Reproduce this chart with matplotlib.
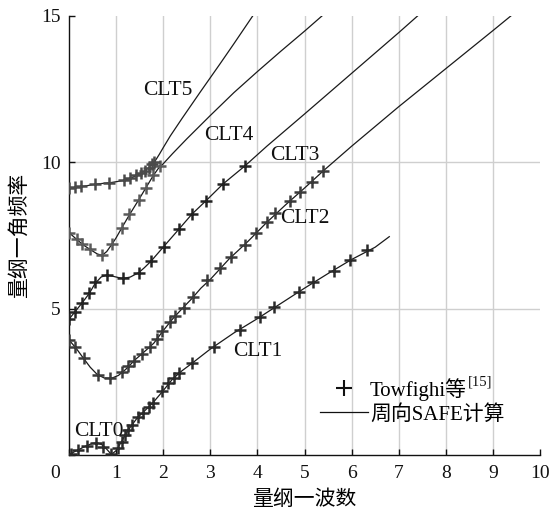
import matplotlib
matplotlib.use("Agg")
import matplotlib.pyplot as plt
from matplotlib.lines import Line2D

plt.rcParams['font.family'] = ['Liberation Serif', 'Noto Sans CJK SC', 'DejaVu Sans']
plt.rcParams['mathtext.fontset'] = 'stix'
SERIF = ['Liberation Serif', 'Noto Sans CJK SC', 'DejaVu Sans']

# ---- data: Towfighi reference points (markers) ----
m01_x = [0.04, 0.20, 0.38, 0.57, 0.72, 0.89, 1.03, 1.12, 1.19, 1.26, 1.33, 1.47, 1.58, 1.69, 1.79,
         1.97, 2.10, 2.22, 2.33, 2.61, 3.07, 3.62, 4.06, 4.36, 4.88, 5.19, 5.62, 5.96, 6.33]
m01_y = [0.02, 0.17, 0.31, 0.42, 0.28, 0.03, 0.23, 0.45, 0.68, 0.85, 1.02, 1.31, 1.45, 1.65, 1.79,
         2.20, 2.45, 2.63, 2.79, 3.13, 3.70, 4.27, 4.73, 5.07, 5.58, 5.90, 6.30, 6.66, 7.00]
m2_x = [0.0, 0.13, 0.32, 0.62, 0.87, 1.12, 1.26, 1.38, 1.55, 1.71, 1.87, 1.97, 2.15, 2.26, 2.45,
        2.64, 2.93, 3.20, 3.43, 3.73, 3.98, 4.21, 4.38, 4.70, 4.91, 5.16, 5.40]
m2_y = [3.93, 3.68, 3.30, 2.73, 2.62, 2.85, 3.04, 3.22, 3.45, 3.68, 3.95, 4.25, 4.55, 4.75, 5.01,
        5.41, 5.98, 6.38, 6.75, 7.17, 7.57, 7.97, 8.28, 8.69, 9.00, 9.34, 9.71]
m3_x = [0.0, 0.13, 0.27, 0.43, 0.55, 0.80, 1.14, 1.48, 1.74, 2.01, 2.33, 2.61, 2.91, 3.27, 3.73]
m3_y = [4.64, 4.90, 5.18, 5.52, 5.92, 6.15, 6.04, 6.23, 6.62, 7.12, 7.71, 8.23, 8.69, 9.26, 9.87]
m4_x = [0.0, 0.16, 0.27, 0.45, 0.70, 0.91, 1.12, 1.28, 1.48, 1.64, 1.79, 1.94]
m4_y = [7.60, 7.37, 7.21, 7.03, 6.82, 7.22, 7.76, 8.22, 8.72, 9.13, 9.58, 9.88]
m5_x = [0.01, 0.13, 0.25, 0.55, 0.84, 1.16, 1.30, 1.43, 1.52, 1.62, 1.69, 1.76, 1.80]
m5_y = [9.11, 9.15, 9.18, 9.26, 9.30, 9.38, 9.45, 9.55, 9.63, 9.72, 9.82, 9.93, 10.00]

# ---- data: circumferential SAFE results (lines) ----
l01_x = [0.0, 0.1, 0.2, 0.35, 0.5, 0.6, 0.7, 0.8, 0.9, 1.0, 1.1, 1.2, 1.3, 1.45, 1.6, 1.8, 2.0,
         2.2, 2.4, 2.6, 3.0, 3.5, 4.0, 4.5, 5.0, 5.5, 6.0, 6.5, 6.8]
l01_y = [0.0, 0.1, 0.18, 0.3, 0.4, 0.42, 0.35, 0.2, 0.02, 0.15, 0.42, 0.7, 0.95, 1.27, 1.5, 1.82, 2.2,
         2.6, 2.88, 3.12, 3.62, 4.17, 4.66, 5.18, 5.70, 6.20, 6.68, 7.10, 7.46]
l2_x = [0.0, 0.15, 0.3, 0.45, 0.6, 0.75, 0.9, 1.05, 1.2, 1.4, 1.6, 1.8, 2.0, 2.2, 2.4, 2.6, 2.8,
        3.0, 3.4, 3.8, 4.2, 4.6, 5.0, 5.4, 6.0, 7.0, 8.0, 9.0, 9.38]
l2_y = [3.93, 3.65, 3.32, 3.0, 2.75, 2.63, 2.62, 2.72, 2.92, 3.25, 3.53, 3.82, 4.25, 4.65, 5.0, 5.33, 5.7,
        6.0, 6.7, 7.3, 7.95, 8.55, 9.12, 9.71, 10.55, 11.9, 13.2, 14.5, 15.0]
l3_x = [0.0, 0.13, 0.27, 0.43, 0.55, 0.68, 0.8, 0.95, 1.14, 1.3, 1.48, 1.6, 1.74, 2.01, 2.33, 2.61,
        2.91, 3.27, 3.73, 4.2, 5.0, 6.0, 7.0, 7.4]
l3_y = [4.64, 4.9, 5.18, 5.52, 5.85, 6.08, 6.15, 6.1, 6.03, 6.08, 6.23, 6.4, 6.62, 7.12, 7.71, 8.23,
        8.69, 9.26, 9.87, 10.55, 11.65, 13.04, 14.43, 15.0]
l4_x = [0.0, 0.16, 0.3, 0.45, 0.6, 0.7, 0.8, 0.91, 1.0, 1.12, 1.28, 1.48, 1.64, 1.79, 1.9, 2.0, 2.2,
        2.5, 3.0, 3.5, 4.0, 4.5, 5.0, 5.37]
l4_y = [7.6, 7.37, 7.18, 7.02, 6.87, 6.82, 6.95, 7.2, 7.42, 7.76, 8.2, 8.72, 9.15, 9.55, 9.8, 9.95, 10.3,
        10.8, 11.6, 12.38, 13.1, 13.8, 14.48, 15.0]
l5_x = [0.0, 0.3, 0.6, 0.9, 1.16, 1.3, 1.43, 1.52, 1.62, 1.69, 1.76, 1.83, 1.92, 2.0, 2.15, 2.4, 2.79,
        3.2, 3.5, 3.9]
l5_y = [9.11, 9.18, 9.26, 9.31, 9.38, 9.45, 9.55, 9.63, 9.72, 9.82, 9.93, 10.05, 10.28, 10.5, 10.9,
        11.5, 12.41, 13.35, 14.05, 15.0]

mode_labels = ['CLT0', 'CLT1', 'CLT2', 'CLT3', 'CLT4', 'CLT5']
label_x = [0.64, 4.0, 5.0, 4.8, 3.4, 2.1]
label_y = [0.80, 3.52, 8.08, 10.25, 10.93, 12.44]

legend_labels = ['Towfighi等', '周向SAFE计算']
legend_ref = '[15]'

xticks = [0, 1, 2, 3, 4, 5, 6, 7, 8, 9, 10]
yticks = [0, 5, 10, 15]

fig = plt.figure(figsize=(5.53, 5.17), dpi=100)
ax = fig.add_axes([0.1248, 0.1199, 0.8517, 0.8492])
ax.set_xlim(0, 10)
ax.set_ylim(0, 15)

for t in xticks[1:-1]:
    ax.axvline(t, color='#cfcfcf', lw=1.0, zorder=0)
for t in yticks[1:-1]:
    ax.axhline(t, color='#cfcfcf', lw=1.0, zorder=0)

line_kw = dict(color='#1a1a1a', lw=0.9, zorder=2)
for lx, ly in [(l01_x, l01_y), (l2_x, l2_y), (l3_x, l3_y), (l4_x, l4_y), (l5_x, l5_y)]:
    ax.plot(lx, ly, **line_kw)

mk_kw = dict(ls='none', marker='+', ms=8.5, mew=1.8, zorder=3)
ax.plot(m01_x, m01_y, color='#2a2a2a', **mk_kw)
ax.plot(m2_x, m2_y, color='#3a3a3a', **mk_kw)
ax.plot(m3_x, m3_y, color='#222222', **mk_kw)
ax.plot(m4_x, m4_y, color='#5a5a5a', **mk_kw)
ax.plot(m5_x, m5_y, color='#4a4a4a', **mk_kw)

for name, tx, ty in zip(mode_labels, label_x, label_y):
    ax.text(tx, ty, name, fontsize=15.5, ha='center', va='center', color='#111111', zorder=4,
            family=SERIF)

for s in ['top', 'right']:
    ax.spines[s].set_visible(False)
for s in ['left', 'bottom']:
    ax.spines[s].set_linewidth(1.0)
    ax.spines[s].set_color('#111111')

ax.set_xticks(xticks)
ax.set_yticks(yticks)
ax.set_xticklabels([''] + [str(t) for t in xticks[1:]], family=SERIF)
ax.set_yticklabels([''] + [str(t) for t in yticks[1:]], family=SERIF)
ax.tick_params(direction='in', length=4, width=1.0, labelsize=14, colors='#111111')
ax.tick_params(axis='x', pad=7)
ax.tick_params(axis='y', pad=6)
ax.text(-0.3, -0.64, '0', fontsize=14, ha='center', va='center', color='#111111', family=SERIF)

ax.set_xlabel('量纲一波数', fontsize=15, labelpad=6, family=SERIF)
ax.set_ylabel('量纲一角频率', fontsize=15, labelpad=8, family=SERIF)

handles = [Line2D([], [], ls='none', marker='+', ms=11, mew=1.5, color='#111111'),
           Line2D([], [], color='#111111', lw=0.9)]
leg = ax.legend(handles, legend_labels,
                loc='upper left', bbox_to_anchor=(0.533, 0.176), frameon=False,
                prop={'family': SERIF, 'size': 15}, handlelength=2.3, handletextpad=0.1,
                borderpad=0, borderaxespad=0, labelspacing=0.2)

fig.canvas.draw()
bb = leg.get_texts()[0].get_window_extent()
ax.annotate(legend_ref, xy=(bb.x1 + 1, bb.y1 + 2), xycoords='figure pixels',
            ha='left', va='top', fontsize=10.5, family=SERIF, color='#111111')

fig.savefig('out.png', dpi=100)
